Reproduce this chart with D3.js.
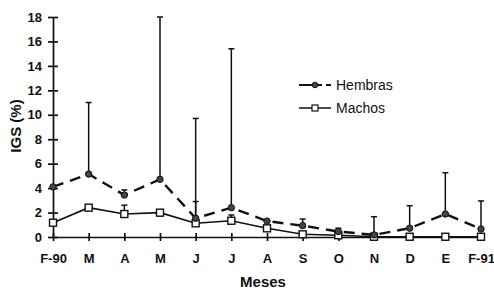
<!DOCTYPE html>
<html><head><meta charset="utf-8">
<script src="https://cdn.jsdelivr.net/npm/d3@7"></script>
<style>body{margin:0;background:#fff}svg{display:block}text{font-family:"Liberation Sans",Arial,sans-serif;fill:#111}</style>
</head><body><svg id="c" width="494" height="289"></svg>
<script>
const months = ["F-90","M","A","M","J","J","A","S","O","N","D","E","F-91"];
const hembras = [4.1,5.15,3.43,4.72,1.53,2.4,1.3,0.93,0.45,0.17,0.72,1.88,0.65];
const hembrasErr = [null,11.0,3.85,18.0,9.7,15.4,1.4,1.47,0.72,1.66,2.56,5.26,2.95];
const machos = [1.17,2.4,1.88,1.99,1.12,1.33,0.71,0.22,0.14,0.02,0.02,0.02,0.02];
const machosErr = [null,null,2.6,null,2.9,1.8,null,null,null,null,null,null,null];
const yTicks = [0,2,4,6,8,10,12,14,16,18];

const svg = d3.select("#c");
const idx = months.map((d,i)=>i);
const x = d3.scalePoint().domain(idx).range([53,481]);
const y = d3.scaleLinear().domain([0,18]).range([237,17]);
const ink = "#111";

// axes
const ya = svg.append("g").attr("transform","translate(53,0)")
  .call(d3.axisLeft(y).tickValues(yTicks).tickSize(5).tickPadding(6).tickSizeOuter(0));
ya.selectAll(".tick line").attr("x2",-5).attr("x1",5);
const xa = svg.append("g").attr("transform","translate(0,237)")
  .call(d3.axisBottom(x).tickFormat(i=>months[i]).tickSize(4).tickPadding(13).tickSizeOuter(0));
xa.selectAll(".tick line").attr("y1",-4).attr("y2",4);
[ya,xa].forEach(g=>{
  g.selectAll("path,line").attr("stroke",ink).attr("stroke-width",1.7);
  g.selectAll("text").attr("font-size",13).attr("font-weight","bold").attr("fill",ink)
   .attr("font-family","Liberation Sans, Arial, sans-serif");
});

// error bars
function errs(vals, tops){
  const g = svg.append("g").attr("stroke",ink).attr("stroke-width",1.5);
  tops.forEach((t,i)=>{
    if(t==null) return;
    g.append("line").attr("x1",x(i)).attr("x2",x(i)).attr("y1",y(vals[i])).attr("y2",y(t));
    g.append("line").attr("x1",x(i)-3).attr("x2",x(i)+3).attr("y1",y(t)).attr("y2",y(t));
  });
}
errs(hembras,hembrasErr);
errs(machos,machosErr);

const line = d3.line().x((d,i)=>x(i)).y(d=>y(d));
svg.append("path").datum(machos).attr("d",line).attr("fill","none").attr("stroke",ink).attr("stroke-width",1.6);
svg.append("path").datum(hembras).attr("d",line).attr("fill","none").attr("stroke",ink).attr("stroke-width",2.4).attr("stroke-dasharray","11,7");

svg.append("g").selectAll("rect").data(machos).join("rect")
  .attr("x",(d,i)=>x(i)-3.5).attr("y",d=>y(d)-3.5).attr("width",7).attr("height",7)
  .attr("fill","#fff").attr("stroke",ink).attr("stroke-width",1.4);
svg.append("g").selectAll("circle").data(hembras).join("circle")
  .attr("cx",(d,i)=>x(i)).attr("cy",d=>y(d)).attr("r",3.2)
  .attr("fill","#444").attr("stroke",ink).attr("stroke-width",1);

// legend
const lg = svg.append("g");
lg.append("line").attr("x1",299).attr("x2",322).attr("y1",85).attr("y2",85).attr("stroke",ink).attr("stroke-width",2);
lg.append("line").attr("x1",326).attr("x2",331).attr("y1",85).attr("y2",85).attr("stroke",ink).attr("stroke-width",2);
lg.append("circle").attr("cx",315).attr("cy",85).attr("r",2.8).attr("fill","#444").attr("stroke",ink);
lg.append("text").attr("x",336).attr("y",90).attr("font-size",14).text("Hembras");
lg.append("line").attr("x1",299).attr("x2",331).attr("y1",108).attr("y2",108).attr("stroke",ink).attr("stroke-width",1.5);
lg.append("rect").attr("x",312).attr("y",105).attr("width",6).attr("height",6).attr("fill","#fff").attr("stroke",ink).attr("stroke-width",1.2);
lg.append("text").attr("x",336).attr("y",113).attr("font-size",14).text("Machos");

// titles
svg.append("text").attr("transform","translate(21,126) rotate(-90)").attr("text-anchor","middle")
  .attr("font-size",15).attr("font-weight","bold").text("IGS (%)");
svg.append("text").attr("x",263).attr("y",287).attr("text-anchor","middle")
  .attr("font-size",15).attr("font-weight","bold").text("Meses");
</script></body></html>
